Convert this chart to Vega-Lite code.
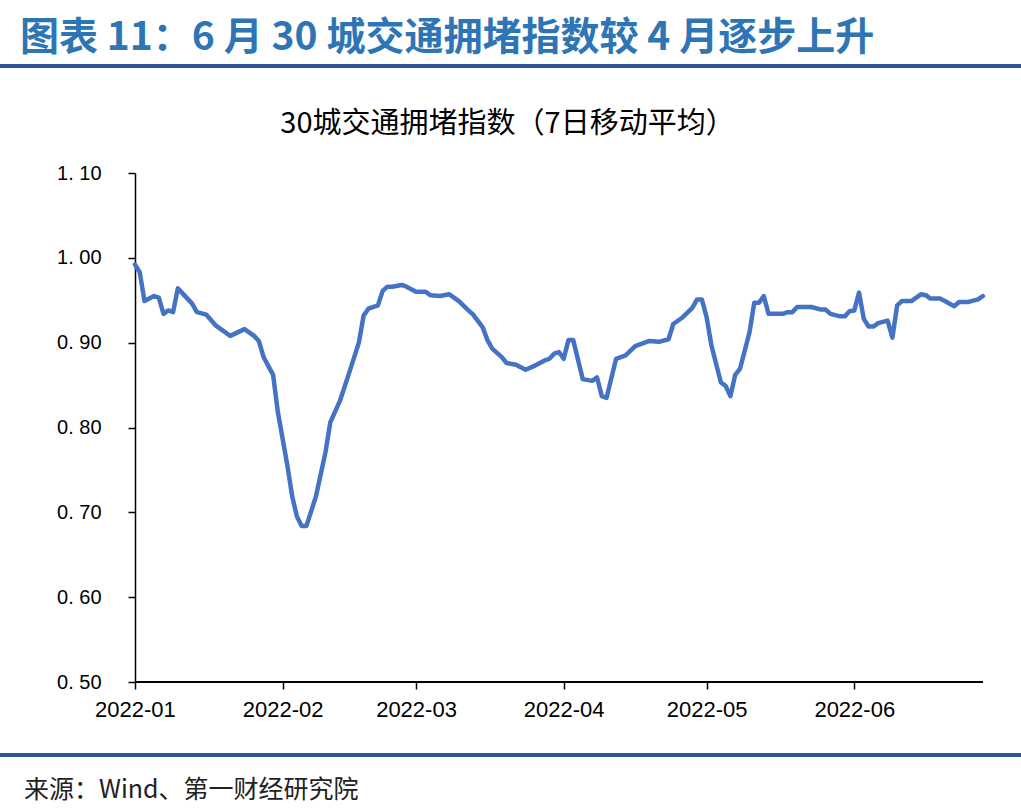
{
  "$schema": "https://vega.github.io/schema/vega-lite/v6.json",
  "padding": {"left": 0, "right": 0, "top": 19, "bottom": 4},
  "background": "white",
  "config": {"font": "Noto Sans CJK SC"},
  "columns": 1,
  "align": "none",
  "spacing": 39,
  "concat": [
    {
      "width": 1021,
      "height": 4,
      "data": {"values": [{}]},
      "view": {"fill": "#2F5597", "stroke": null},
      "title": {"text": "图表 11：6 月 30 城交通拥堵指数较 4 月逐步上升", "anchor": "start", "dx": 20, "fontSize": 39, "fontWeight": "bold", "color": "#2E75B6", "offset": 2, "font": "Noto Sans CJK SC"},
      "mark": {"type": "text", "text": ""}
    },
    {
      "columns": 1,
      "align": "none",
      "spacing": 29,
      "concat": [
        {
          "width": 1021,
          "height": 509,
          "data": {"values": [
            {"date": "2022-01-01", "value": 0.992},
            {"date": "2022-01-02", "value": 0.983},
            {"date": "2022-01-03", "value": 0.949},
            {"date": "2022-01-05", "value": 0.955},
            {"date": "2022-01-06", "value": 0.953},
            {"date": "2022-01-07", "value": 0.934},
            {"date": "2022-01-08", "value": 0.938},
            {"date": "2022-01-09", "value": 0.936},
            {"date": "2022-01-10", "value": 0.964},
            {"date": "2022-01-13", "value": 0.946},
            {"date": "2022-01-14", "value": 0.936},
            {"date": "2022-01-16", "value": 0.933},
            {"date": "2022-01-18", "value": 0.920},
            {"date": "2022-01-21", "value": 0.908},
            {"date": "2022-01-24", "value": 0.916},
            {"date": "2022-01-26", "value": 0.908},
            {"date": "2022-01-27", "value": 0.902},
            {"date": "2022-01-28", "value": 0.883},
            {"date": "2022-01-30", "value": 0.862},
            {"date": "2022-01-31", "value": 0.818},
            {"date": "2022-02-02", "value": 0.755},
            {"date": "2022-02-03", "value": 0.719},
            {"date": "2022-02-04", "value": 0.695},
            {"date": "2022-02-05", "value": 0.684},
            {"date": "2022-02-06", "value": 0.684},
            {"date": "2022-02-08", "value": 0.719},
            {"date": "2022-02-10", "value": 0.771},
            {"date": "2022-02-11", "value": 0.806},
            {"date": "2022-02-13", "value": 0.831},
            {"date": "2022-02-15", "value": 0.865},
            {"date": "2022-02-17", "value": 0.900},
            {"date": "2022-02-18", "value": 0.932},
            {"date": "2022-02-19", "value": 0.940},
            {"date": "2022-02-21", "value": 0.944},
            {"date": "2022-02-22", "value": 0.961},
            {"date": "2022-02-23", "value": 0.966},
            {"date": "2022-02-24", "value": 0.966},
            {"date": "2022-02-26", "value": 0.968},
            {"date": "2022-02-27", "value": 0.966},
            {"date": "2022-03-01", "value": 0.960},
            {"date": "2022-03-03", "value": 0.960},
            {"date": "2022-03-04", "value": 0.956},
            {"date": "2022-03-06", "value": 0.955},
            {"date": "2022-03-08", "value": 0.957},
            {"date": "2022-03-10", "value": 0.949},
            {"date": "2022-03-12", "value": 0.938},
            {"date": "2022-03-13", "value": 0.933},
            {"date": "2022-03-15", "value": 0.918},
            {"date": "2022-03-16", "value": 0.903},
            {"date": "2022-03-17", "value": 0.893},
            {"date": "2022-03-19", "value": 0.883},
            {"date": "2022-03-20", "value": 0.876},
            {"date": "2022-03-22", "value": 0.874},
            {"date": "2022-03-24", "value": 0.868},
            {"date": "2022-03-26", "value": 0.873},
            {"date": "2022-03-28", "value": 0.879},
            {"date": "2022-03-29", "value": 0.881},
            {"date": "2022-03-30", "value": 0.887},
            {"date": "2022-03-31", "value": 0.889},
            {"date": "2022-04-01", "value": 0.881},
            {"date": "2022-04-02", "value": 0.903},
            {"date": "2022-04-03", "value": 0.903},
            {"date": "2022-04-05", "value": 0.857},
            {"date": "2022-04-07", "value": 0.855},
            {"date": "2022-04-08", "value": 0.859},
            {"date": "2022-04-09", "value": 0.837},
            {"date": "2022-04-10", "value": 0.835},
            {"date": "2022-04-12", "value": 0.881},
            {"date": "2022-04-14", "value": 0.885},
            {"date": "2022-04-16", "value": 0.896},
            {"date": "2022-04-19", "value": 0.902},
            {"date": "2022-04-21", "value": 0.901},
            {"date": "2022-04-23", "value": 0.904},
            {"date": "2022-04-24", "value": 0.922},
            {"date": "2022-04-26", "value": 0.930},
            {"date": "2022-04-28", "value": 0.941},
            {"date": "2022-04-29", "value": 0.951},
            {"date": "2022-04-30", "value": 0.951},
            {"date": "2022-05-01", "value": 0.930},
            {"date": "2022-05-02", "value": 0.897},
            {"date": "2022-05-04", "value": 0.853},
            {"date": "2022-05-05", "value": 0.849},
            {"date": "2022-05-06", "value": 0.837},
            {"date": "2022-05-07", "value": 0.862},
            {"date": "2022-05-08", "value": 0.869},
            {"date": "2022-05-10", "value": 0.912},
            {"date": "2022-05-11", "value": 0.947},
            {"date": "2022-05-12", "value": 0.947},
            {"date": "2022-05-13", "value": 0.955},
            {"date": "2022-05-14", "value": 0.934},
            {"date": "2022-05-17", "value": 0.934},
            {"date": "2022-05-18", "value": 0.936},
            {"date": "2022-05-19", "value": 0.936},
            {"date": "2022-05-20", "value": 0.942},
            {"date": "2022-05-23", "value": 0.942},
            {"date": "2022-05-25", "value": 0.939},
            {"date": "2022-05-26", "value": 0.939},
            {"date": "2022-05-27", "value": 0.934},
            {"date": "2022-05-29", "value": 0.931},
            {"date": "2022-05-30", "value": 0.931},
            {"date": "2022-05-31", "value": 0.937},
            {"date": "2022-06-01", "value": 0.938},
            {"date": "2022-06-02", "value": 0.959},
            {"date": "2022-06-03", "value": 0.928},
            {"date": "2022-06-04", "value": 0.919},
            {"date": "2022-06-05", "value": 0.919},
            {"date": "2022-06-06", "value": 0.923},
            {"date": "2022-06-08", "value": 0.926},
            {"date": "2022-06-09", "value": 0.906},
            {"date": "2022-06-10", "value": 0.944},
            {"date": "2022-06-11", "value": 0.949},
            {"date": "2022-06-13", "value": 0.949},
            {"date": "2022-06-14", "value": 0.953},
            {"date": "2022-06-15", "value": 0.957},
            {"date": "2022-06-16", "value": 0.956},
            {"date": "2022-06-17", "value": 0.952},
            {"date": "2022-06-19", "value": 0.952},
            {"date": "2022-06-20", "value": 0.949},
            {"date": "2022-06-22", "value": 0.943},
            {"date": "2022-06-23", "value": 0.948},
            {"date": "2022-06-25", "value": 0.948},
            {"date": "2022-06-27", "value": 0.951},
            {"date": "2022-06-28", "value": 0.955}
          ]},
          "view": {"stroke": null},
          "title": {"text": "30城交通拥堵指数（7日移动平均）", "anchor": "middle", "dx": -3, "fontSize": 29, "fontWeight": "normal", "color": "#000000", "offset": 24, "font": "Noto Sans CJK SC"},
          "encoding": {
            "x": {
              "field": "date",
              "type": "temporal",
              "scale": {"type": "utc", "domain": [{"year": 2021, "month": 12, "date": 3, "hours": 16, "utc": true}, {"year": 2022, "month": 7, "date": 6, "utc": true}]},
              "axis": {
                "title": null,
                "values": [
                  {"year": 2022, "month": 1, "date": 1, "utc": true},
                  {"year": 2022, "month": 2, "date": 1, "utc": true},
                  {"year": 2022, "month": 3, "date": 1, "utc": true},
                  {"year": 2022, "month": 4, "date": 1, "utc": true},
                  {"year": 2022, "month": 5, "date": 1, "utc": true},
                  {"year": 2022, "month": 6, "date": 1, "utc": true}
                ],
                "format": "%Y-%m",
                "grid": false,
                "domain": false,
                "tickColor": "#000000",
                "tickWidth": 1.5,
                "tickSize": 7,
                "labelFont": "Liberation Sans",
                "labelFontSize": 22,
                "labelColor": "#000000",
                "labelPadding": 10,
                "labelFlush": false,
                "labelOverlap": false
              }
            },
            "y": {
              "field": "value",
              "type": "quantitative",
              "scale": {"domain": [0.5, 1.1], "zero": false, "nice": false},
              "axis": {
                "title": null,
                "values": [0.5, 0.6, 0.7, 0.8, 0.9, 1.0, 1.1],
                "labelExpr": "replace(format(datum.value, '.2f'), '.', '. ')",
                "grid": false,
                "offset": -135,
                "domainColor": "#000000",
                "domainWidth": 1.5,
                "tickColor": "#000000",
                "tickWidth": 1.5,
                "tickSize": 7,
                "labelFont": "Liberation Sans",
                "labelFontSize": 20,
                "labelColor": "#000000",
                "labelPadding": 27
              }
            }
          },
          "layer": [
            {
              "mark": {"type": "rule", "color": "#000000", "strokeWidth": 1.5},
              "encoding": {
                "x": {"datum": {"year": 2022, "month": 1, "date": 1, "utc": true}, "type": "temporal"},
                "x2": {"datum": {"year": 2022, "month": 6, "date": 28, "utc": true}},
                "y": {"datum": 0.5, "type": "quantitative"}
              }
            },
            {
              "mark": {"type": "line", "color": "#4472C4", "strokeWidth": 4.5, "strokeJoin": "round", "strokeCap": "round"}
            }
          ]
        },
        {
          "width": 1021,
          "height": 4,
          "data": {"values": [{}]},
          "view": {"fill": "#2F5597", "stroke": null},
          "title": {"text": "来源：Wind、第一财经研究院", "orient": "bottom", "anchor": "start", "dx": 24, "fontSize": 25, "fontWeight": "normal", "color": "#222222", "offset": 18, "font": "Noto Sans CJK SC"},
          "mark": {"type": "text", "text": ""}
        }
      ]
    }
  ]
}
